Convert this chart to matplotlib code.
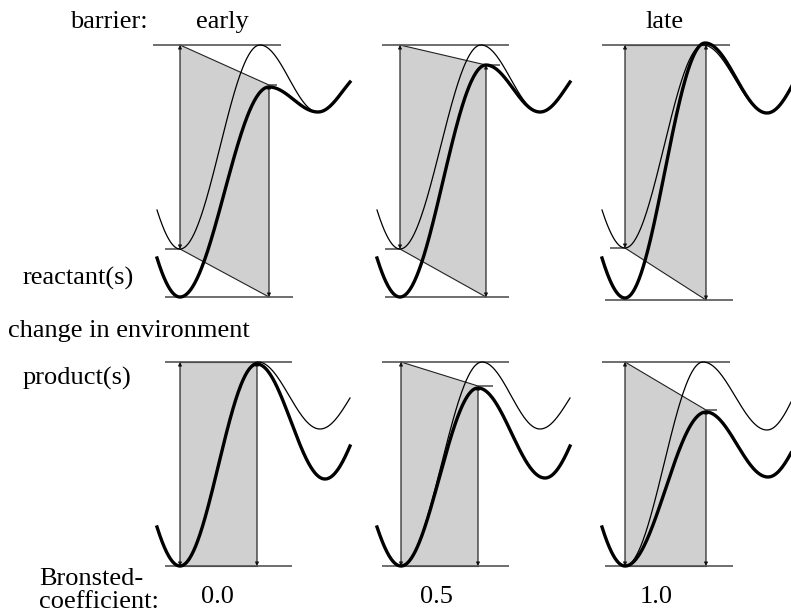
import numpy as np
import matplotlib
matplotlib.use("Agg")
import matplotlib.pyplot as plt
from matplotlib.patches import Polygon

# ---------------- data (drawing units = pixels, y grows downward) ----------------
column_titles = ["early", "", "late"]
bronsted_values = ["0.0", "0.5", "1.0"]

# Energy-profile key points per panel: start, reactant min, TS max, product min, end
# order of panels: top-left, top-mid, top-right, bottom-left, bottom-mid, bottom-right
thin_x = [[157, 180, 260, 318, 350], [377, 400, 481, 540, 570], [602, 625, 703, 767, 795],
          [157, 180, 258, 320, 350], [377, 401, 482, 540, 570], [602, 625, 703, 767, 791]]
thin_y = [[210, 249, 45, 112, 82], [210, 249, 45, 112, 82], [210, 248, 45, 113, 80],
          [527, 566, 362, 429, 398], [527, 566, 362, 429, 398], [527, 566, 362, 430, 402]]
thick_x = [[157, 180, 269, 318, 350], [377, 400, 486, 540, 570], [602, 625, 705, 767, 795],
           [157, 180, 257, 325, 350], [377, 401, 478, 545, 570], [602, 625, 706, 768, 791]]
thick_y = [[258, 297, 87, 112, 82], [258, 297, 65, 112, 82], [258, 298, 43, 113, 80],
           [527, 566, 364, 479, 446], [527, 566, 388, 478, 446], [527, 566, 412, 477, 453]]

# Barrier quadrilateral: left/right arrow x, old TS level, new TS level, old/new reactant level
arrow_left_x = [180, 400, 625, 180, 401, 625]
arrow_right_x = [269, 486, 706, 257, 478, 706]
ts_old = [45, 45, 45, 362, 362, 362]
ts_new = [85, 65, 45, 362, 386, 410]
react_old = [249, 249, 248, 566, 566, 566]
react_new = [297, 297, 300, 566, 566, 566]

# reference level lines: (y, x_from, x_to)
level_lines = [
    (45, 153, 281), (249, 165, 180), (297, 165, 293), (85, 269, 277),
    (45, 382, 509), (249, 385, 400), (297, 385, 509), (65, 486, 500),
    (45, 602, 730), (248, 610, 625), (300, 605, 733),
    (362, 165, 292), (566, 165, 292),
    (362, 382, 509), (566, 382, 509), (386, 478, 493),
    (362, 602, 730), (566, 605, 733), (410, 706, 717),
]


def profile(xs, ys, n=120):
    """Smooth curve through extrema using half-cosine segments."""
    X, Y = [], []
    # start segment (partial half period, width of next segment)
    w = xs[2] - xs[1]
    d = xs[1] - xs[0]
    f = (1 - np.cos(np.pi * d / w)) / 2
    A = (ys[0] - ys[1]) / f
    x = np.linspace(xs[0], xs[1], n)
    X.append(x)
    Y.append(ys[1] + A * (1 - np.cos(np.pi * (xs[1] - x) / w)) / 2)
    for i in (1, 2):
        x = np.linspace(xs[i], xs[i + 1], n)
        t = (x - xs[i]) / (xs[i + 1] - xs[i])
        X.append(x)
        Y.append(ys[i] + (ys[i + 1] - ys[i]) * (1 - np.cos(np.pi * t)) / 2)
    w = xs[3] - xs[2]
    d = xs[4] - xs[3]
    f = (1 - np.cos(np.pi * d / w)) / 2
    A = (ys[4] - ys[3]) / f
    x = np.linspace(xs[3], xs[4], n)
    X.append(x)
    Y.append(ys[3] + A * (1 - np.cos(np.pi * (x - xs[3]) / w)) / 2)
    return np.concatenate(X), np.concatenate(Y)


fig = plt.figure(figsize=(7.91, 6.14), dpi=100)
ax = fig.add_axes([0, 0, 1, 1])
ax.set_xlim(0, 791)
ax.set_ylim(614, 0)
ax.axis("off")

for i in range(6):
    xl, xr = arrow_left_x[i], arrow_right_x[i]
    quad = [(xl, ts_old[i]), (xr, ts_new[i]), (xr, react_new[i]), (xl, react_old[i])]
    ax.add_patch(Polygon(quad, closed=True, facecolor="#d0d0d0", edgecolor="none", zorder=1))
    ax.plot([xl, xr], [ts_old[i], ts_new[i]], color="#222222", lw=0.8, zorder=2)
    ax.plot([xl, xr], [react_old[i], react_new[i]], color="#222222", lw=0.8, zorder=2)
    for (x, y0, y1) in [(xl, ts_old[i], react_old[i]), (xr, ts_new[i], react_new[i])]:
        ax.annotate("", xy=(x, y1), xytext=(x, y0),
                    arrowprops=dict(arrowstyle="<|-|>", color="#111111", lw=0.8,
                                    mutation_scale=5, shrinkA=0, shrinkB=0),
                    zorder=3)

for (y, x0, x1) in level_lines:
    ax.plot([x0, x1], [y, y], color="#555555", lw=1.2, zorder=2, solid_capstyle="butt")

for i in range(6):
    x, y = profile(thin_x[i], thin_y[i])
    ax.plot(x, y, color="black", lw=0.9, zorder=4)
    x, y = profile(thick_x[i], thick_y[i])
    ax.plot(x, y, color="black", lw=2.4, zorder=5)

font = dict(family="Liberation Serif", size=19, color="black")
ax.text(70, 28, "barrier:", ha="left", va="baseline", **font)
title_x = [222, 443, 665]
for tx, t in zip(title_x, column_titles):
    if t:
        ax.text(tx, 28, t, ha="center", va="baseline", **font)
ax.text(23, 285, "reactant(s)", ha="left", va="baseline", **font)
ax.text(8, 337, "change in environment", ha="left", va="baseline", **font)
ax.text(23, 385, "product(s)", ha="left", va="baseline", **font)
ax.text(39, 585, "Bronsted-", ha="left", va="baseline", **font)
ax.text(39, 608, "coefficient:", ha="left", va="baseline", **font)
value_x = [217, 436, 656]
for vx, v in zip(value_x, bronsted_values):
    ax.text(vx, 603, v, ha="center", va="baseline", **font)

fig.savefig("out.png", dpi=100)
